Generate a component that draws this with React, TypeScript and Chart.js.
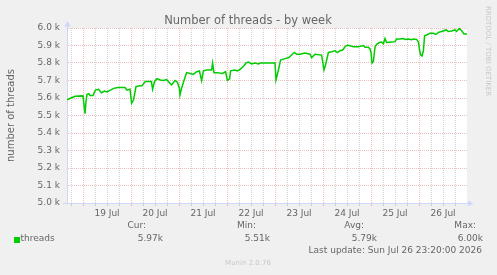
import React, { useEffect, useRef } from "react";
import { Chart, registerables } from "chart.js";

Chart.register(...registerables);

// hours since Jul 18 00:00
const hours = [16, 18, 20, 24, 25, 25.5, 26, 26.9, 27.5, 29, 30.2, 31.8, 33.2, 34.8, 36, 37.7, 39.3, 41.5, 45, 46, 47.5, 48.3, 49.3, 50.5, 52.2, 53.5, 55.2, 57.2, 58.2, 58.8, 59.8, 61, 62.7, 64.2, 65.8, 67.5, 68.3, 70, 71.2, 72.2, 72.5, 73.3, 74.5, 75.8, 77.5, 79.2, 80.8, 82.2, 83.3, 84.2, 85.8, 88.3, 88.8, 89.5, 91.2, 93.7, 95.3, 96.2, 97.3, 97.8, 100, 101.2, 102.5, 104.2, 105.5, 106.7, 108.3, 110, 111.7, 112.5, 115, 118.3, 120, 120.5, 121.7, 122.8, 125, 126.7, 128.3, 129.7, 130.8, 132.5, 135, 137.5, 138.3, 140, 143.3, 144.5, 145.3, 146.7, 148.3, 150, 151.2, 152.5, 153.8, 155, 156.2, 157.5, 159.2, 161.7, 164.2, 165, 166.7, 167.5, 168, 168.5, 169.2, 170, 170.8, 172.2, 173.3, 174.2, 175, 175.8, 178.3, 180, 180.8, 182.5, 184.2, 185, 186.7, 188.3, 189.2, 190.8, 191.7, 192.2, 192.8, 193.5, 194.2, 194.8, 195.8, 197.5, 199.2, 200.5, 201.7, 203.3, 205.5, 206.7, 208.3, 210, 210.8, 212.2, 213.3, 214.5, 216];

const threads = [5590, 5600, 5610, 5612, 5510, 5580, 5620, 5625, 5615, 5615, 5645, 5650, 5630, 5640, 5635, 5645, 5655, 5660, 5660, 5645, 5650, 5570, 5590, 5665, 5670, 5670, 5695, 5695, 5695, 5650, 5695, 5710, 5703, 5700, 5705, 5684, 5675, 5700, 5690, 5656, 5617, 5656, 5700, 5745, 5740, 5735, 5750, 5755, 5700, 5755, 5760, 5760, 5800, 5745, 5745, 5740, 5750, 5700, 5710, 5755, 5760, 5755, 5764, 5780, 5800, 5805, 5795, 5800, 5795, 5800, 5800, 5800, 5800, 5703, 5760, 5817, 5825, 5830, 5846, 5860, 5850, 5850, 5857, 5850, 5830, 5850, 5845, 5760, 5790, 5860, 5864, 5870, 5860, 5870, 5874, 5893, 5903, 5898, 5893, 5893, 5900, 5890, 5890, 5880, 5860, 5800, 5810, 5890, 5907, 5917, 5920, 5910, 5940, 5917, 5920, 5922, 5937, 5937, 5940, 5935, 5937, 5933, 5937, 5935, 5920, 5880, 5846, 5840, 5870, 5956, 5960, 5970, 5970, 5963, 5975, 5980, 5989, 5980, 5983, 5989, 5980, 5998, 5985, 5966, 5966];

const dayLabels = ["19 Jul", "20 Jul", "21 Jul", "22 Jul", "23 Jul", "24 Jul", "25 Jul", "26 Jul"];
const xTickHours = [18, 24, 30, 36, 42, 48, 54, 60, 66, 72, 78, 84, 90, 96, 102, 108, 114, 120, 126, 132, 138, 144, 150, 156, 162, 168, 174, 180, 186, 192, 198, 204, 210];
const yMin = 5000;
const yMax = 6000;
const yStep = 100;

const legendName = "threads";
const legendHeaders = ["Cur:", "Min:", "Avg:", "Max:"];
const legendValues = ["5.97k", "5.51k", "5.79k", "6.00k"];
const titleText = "Number of threads - by week";
const yTitle = "number of threads";
const lastUpdate = "Last update: Sun Jul 26 23:20:00 2026";
const footer = "Munin 2.0.76";
const sideText = "RRDTOOL / TOBI OETIKER";

const FONT = '"DejaVu Sans"';
const TEXT = "#666666";
const AXIS = "#CFD6F8";
const MINOR = "rgba(150,150,150,0.42)";
const MAJOR = "rgba(220,110,110,0.45)";

const decor = {
  id: "decor",
  beforeDraw(chart: any) {
    const { ctx, chartArea: a } = chart;
    ctx.save();
    ctx.fillStyle = "#F0F0F0";
    ctx.fillRect(0, 0, chart.width, chart.height);
    ctx.fillStyle = "#FFFFFF";
    ctx.fillRect(a.left, a.top, a.right - a.left, a.bottom - a.top);
    ctx.restore();
  },
  afterDraw(chart: any) {
    const { ctx, chartArea: a } = chart;
    ctx.save();
    // axis extensions and arrows
    ctx.strokeStyle = AXIS;
    ctx.lineWidth = 1;
    ctx.beginPath();
    ctx.moveTo(a.left + 0.5, a.top);
    ctx.lineTo(a.left + 0.5, a.top - 3);
    ctx.moveTo(a.right, a.bottom + 0.5);
    ctx.lineTo(a.right + 2, a.bottom + 0.5);
    ctx.moveTo(a.left - 4, a.bottom + 0.5);
    ctx.lineTo(a.left, a.bottom + 0.5);
    ctx.stroke();
    ctx.fillStyle = AXIS;
    ctx.beginPath();
    ctx.moveTo(a.left - 2.5, a.top - 1.5);
    ctx.lineTo(a.left + 3.5, a.top - 1.5);
    ctx.lineTo(a.left + 0.5, a.top - 7);
    ctx.closePath();
    ctx.fill();
    ctx.beginPath();
    ctx.moveTo(a.right + 1, a.bottom - 2.5);
    ctx.lineTo(a.right + 1, a.bottom + 3.5);
    ctx.lineTo(a.right + 6.5, a.bottom + 0.5);
    ctx.closePath();
    ctx.fill();

    // title
    ctx.fillStyle = TEXT;
    ctx.textBaseline = "middle";
    ctx.textAlign = "center";
    ctx.font = `11.5px ${FONT}`;
    ctx.fillText(titleText, 248, 21.5);

    // legend
    ctx.font = `9px ${FONT}`;
    ctx.textAlign = "right";
    const headerRight = [146, 256, 364, 476];
    const valueRight = [163, 270, 377, 483];
    legendHeaders.forEach((h, i) => ctx.fillText(h, headerRight[i], 226));
    legendValues.forEach((v, i) => ctx.fillText(v, valueRight[i], 239));
    ctx.fillText(lastUpdate, 482, 251);
    ctx.textAlign = "left";
    ctx.fillText(legendName, 20.5, 239);
    ctx.fillStyle = "#00CC00";
    ctx.fillRect(14, 237, 6, 6);

    // footer
    ctx.fillStyle = "#C8C8C8";
    ctx.textAlign = "center";
    ctx.font = `7px ${FONT}`;
    ctx.fillText(footer, 248, 263);

    // side text
    ctx.translate(487.5, 51);
    ctx.rotate(Math.PI / 2);
    ctx.fillStyle = "#C8C8C8";
    ctx.fillText(sideText, 0, 0);
    ctx.restore();
  },
};

export default function App() {
  const ref = useRef<HTMLCanvasElement | null>(null);
  useEffect(() => {
    if (!ref.current) return;
    const yTickVals: number[] = [];
    for (let v = yMin; v <= yMax; v += yStep) yTickVals.push(v);
    const chart = new Chart(ref.current, {
      type: "line",
      data: {
        datasets: [
          {
            label: legendName,
            data: hours.map((h, i) => ({ x: h, y: threads[i] })),
            borderColor: "#00CC00",
            borderWidth: 1.5,
            pointRadius: 0,
            tension: 0,
            fill: false,
          },
        ],
      },
      options: {
        animation: false,
        responsive: false,
        devicePixelRatio: 1,
        layout: { padding: { top: 28, right: 30, left: 0, bottom: 0 } },
        plugins: { legend: { display: false }, tooltip: { enabled: false }, title: { display: false } },
        scales: {
          x: {
            type: "linear",
            min: 16,
            max: 216,
            afterFit: (s: any) => {
              s.height = 72;
            },
            afterBuildTicks: (s: any) => {
              s.ticks = xTickHours.map((v) => ({ value: v }));
            },
            ticks: {
              autoSkip: false,
              maxRotation: 0,
              padding: 2,
              color: TEXT,
              font: { family: "DejaVu Sans", size: 9 },
              callback: (v: any) => {
                const n = Number(v);
                if ((n - 12) % 24 === 0) {
                  const idx = (n - 36) / 24;
                  return dayLabels[idx] ?? "";
                }
                return "";
              },
            },
            grid: {
              drawTicks: true,
              tickLength: 3,
              color: (c: any) => (c.tick && c.tick.value % 24 === 0 ? MAJOR : MINOR),
              tickColor: (c: any) => (c.tick && c.tick.value % 24 === 0 ? MAJOR : MINOR),
              borderDash: [1, 1],
            } as any,
            border: { display: true, color: AXIS, width: 1, dash: [1, 1] } as any,
          },
          y: {
            type: "linear",
            min: yMin,
            max: yMax,
            afterFit: (s: any) => {
              s.width = 67;
            },
            afterBuildTicks: (s: any) => {
              s.ticks = yTickVals.map((v) => ({ value: v }));
            },
            ticks: {
              padding: 7,
              color: TEXT,
              font: { family: "DejaVu Sans", size: 9 },
              callback: (v: any) => (Number(v) / 1000).toFixed(1) + " k",
            },
            grid: {
              drawTicks: false,
              color: MAJOR,
              borderDash: [1, 1],
            } as any,
            border: { display: true, color: AXIS, width: 1, dash: [1, 1] } as any,
            title: {
              display: true,
              text: yTitle,
              color: TEXT,
              font: { family: "DejaVu Sans", size: 10 },
              padding: { top: 5, bottom: 0 },
            },
          },
        },
      } as any,
      plugins: [decor],
    });
    return () => chart.destroy();
  }, []);
  return (
    <div style={{ position: "absolute", left: 0, top: 0, width: 497, height: 275 }}>
      <canvas ref={ref} width={497} height={275} style={{ width: 497, height: 275, display: "block" }} />
    </div>
  );
}
